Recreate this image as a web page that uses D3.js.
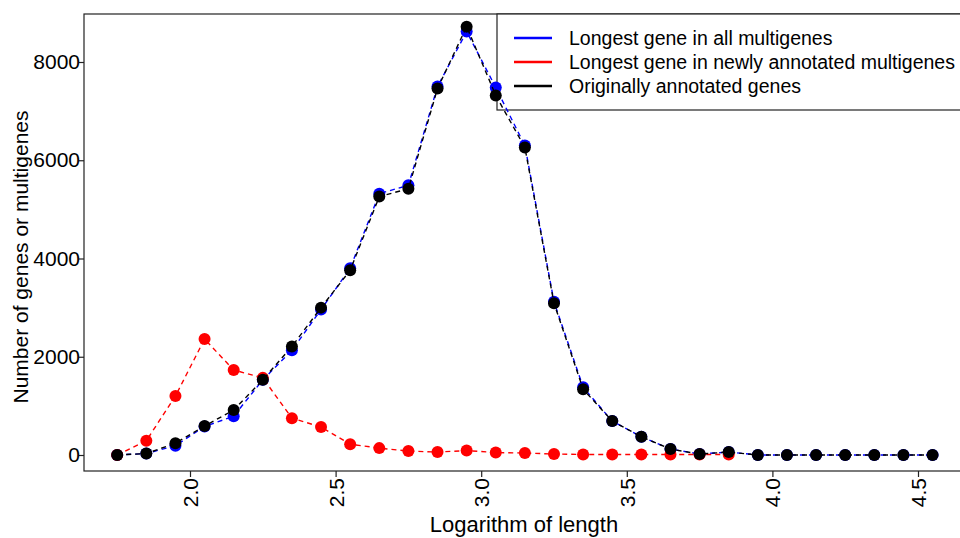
<!DOCTYPE html>
<html>
<head>
<meta charset="utf-8">
<script src="https://cdn.jsdelivr.net/npm/d3@7"></script>
<style>
  body { margin: 0; background: #fff; }
  text { font-family: "Liberation Sans", Arial, sans-serif; fill: #000; }
</style>
</head>
<body>
<div id="chart"></div>
<script>
/*chart data: bin centres of log10 length and counts per bin*/
var logLength = [1.75, 1.85, 1.95, 2.05, 2.15, 2.25, 2.35, 2.45, 2.55, 2.65, 2.75, 2.85, 2.95, 3.05, 3.15,
  3.25, 3.35, 3.45, 3.55, 3.65, 3.75, 3.85, 3.95, 4.05, 4.15, 4.25, 4.35, 4.45, 4.55];
var allMultigenes = [0, 30, 190, 580, 790, 1530, 2130, 2960, 3800, 5320, 5490, 7500, 8620, 7480, 6300,
  3120, 1380, 690, 370, 120, 20, 60, 0, 0, 0, 0, 0, 0, 0];
var newMultigenes = [0, 290, 1200, 2360, 1730, 1570, 750, 570, 220, 140, 80, 60, 90, 50, 40,
  20, 10, 10, 10, 10, 10, 10];
var originalGenes = [0, 30, 240, 590, 915, 1530, 2210, 3000, 3760, 5260, 5420, 7460, 8720, 7320, 6260,
  3090, 1340, 690, 370, 120, 20, 60, 0, 0, 0, 0, 0, 0, 0];
var xTicks = [2.0, 2.5, 3.0, 3.5, 4.0, 4.5];
var yTicks = [0, 2000, 4000, 6000, 8000];
var seriesNames = ["Longest gene in all multigenes", "Longest gene in newly annotated multigenes", "Originally annotated genes"];
var seriesColors = ["#0000ff", "#ff0000", "#000000"];

var svgWidth = 960, svgHeight = 538;
/*plot box (right edge runs off the picture like in the original)*/
var box = { left: 84, top: 14, right: 990, bottom: 471 };

var svg = d3.select("#chart").append("svg")
  .attr("width", svgWidth)
  .attr("height", svgHeight);

var xScale = d3.scaleLinear().domain([2, 4.5]).range([190, 918]);
var yScale = d3.scaleLinear().domain([0, 8000]).range([455, 62]);

/*axes*/
var bottomAxis = d3.axisBottom(xScale).tickValues(xTicks).tickFormat(d3.format(".1f")).tickSize(6).tickSizeOuter(0);
var leftAxis = d3.axisLeft(yScale).tickValues(yTicks).tickFormat(d3.format("d")).tickSize(5).tickSizeOuter(0);

var xAxisG = svg.append("g")
  .attr("transform", `translate(0,${box.bottom})`)
  .call(bottomAxis);
xAxisG.select(".domain").remove();
xAxisG.selectAll("line").attr("stroke", "#222").attr("stroke-width", 1.2);
xAxisG.selectAll("text")
  .attr("font-size", 21)
  .attr("transform", "rotate(-90)")
  .attr("text-anchor", "end")
  .attr("x", -7)
  .attr("y", 0)
  .attr("dy", "0.36em");

var yAxisG = svg.append("g")
  .attr("transform", `translate(${box.left},0)`)
  .call(leftAxis);
yAxisG.select(".domain").remove();
yAxisG.selectAll("line").attr("stroke", "#222").attr("stroke-width", 1.2);
yAxisG.selectAll("text").attr("font-size", 21).attr("x", -4);

/*box around plot*/
svg.append("rect")
  .attr("x", box.left)
  .attr("y", box.top)
  .attr("width", box.right - box.left)
  .attr("height", box.bottom - box.top)
  .attr("fill", "none")
  .attr("stroke", "#222")
  .attr("stroke-width", 1.2);

/*axis titles*/
svg.append("text")
  .attr("text-anchor", "middle")
  .attr("x", 524)
  .attr("y", 532)
  .attr("font-size", 22)
  .text("Logarithm of length");

svg.append("text")
  .attr("text-anchor", "middle")
  .attr("transform", "translate(28,257) rotate(-90)")
  .attr("font-size", 21)
  .text("Number of genes or multigenes");

/*legend (drawn before the series so points sit on top of its border)*/
var legend = svg.append("g").attr("transform", "translate(497,14)");
legend.append("rect")
  .attr("width", 500)
  .attr("height", 96)
  .attr("fill", "#fff")
  .attr("stroke", "#222")
  .attr("stroke-width", 1.2);
seriesNames.forEach(function(name, i) {
  var y = 24 + i * 24;
  legend.append("line")
    .attr("x1", 17).attr("x2", 55)
    .attr("y1", y).attr("y2", y)
    .attr("stroke", seriesColors[i])
    .attr("stroke-width", 2.5);
  legend.append("text")
    .attr("x", 72)
    .attr("y", y)
    .attr("dy", "0.36em")
    .attr("font-size", 19.5)
    .text(name);
});

/*series*/
var series = [
  { values: allMultigenes, color: seriesColors[0] },
  { values: newMultigenes, color: seriesColors[1] },
  { values: originalGenes, color: seriesColors[2] }
];

var line = d3.line()
  .x(d => xScale(d.x))
  .y(d => yScale(d.y));

series.forEach(function(s) {
  var pts = s.values.map((v, i) => ({ x: logLength[i], y: v }));
  svg.append("path")
    .datum(pts)
    .attr("d", line)
    .attr("fill", "none")
    .attr("stroke", s.color)
    .attr("stroke-width", 1.4)
    .attr("stroke-dasharray", "5,4");
  svg.append("g").selectAll("circle")
    .data(pts)
    .enter()
    .append("circle")
    .attr("cx", d => xScale(d.x))
    .attr("cy", d => yScale(d.y))
    .attr("r", 6)
    .attr("fill", s.color);
});
</script>
</body>
</html>
